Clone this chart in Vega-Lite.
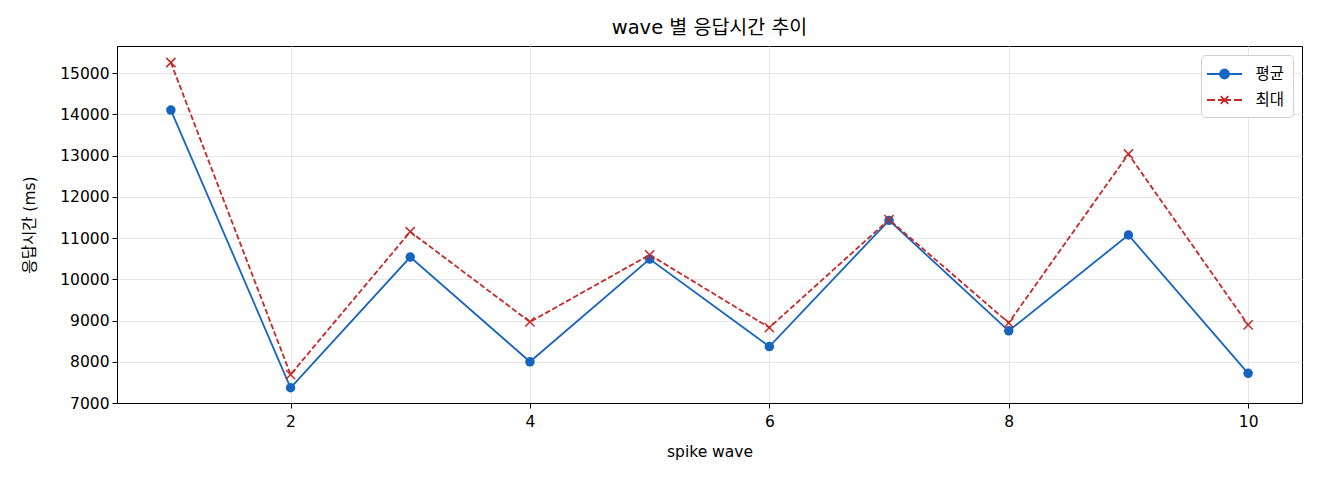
{
  "$schema": "https://vega.github.io/schema/vega-lite/v6.json",
  "width": 1185,
  "height": 357,
  "autosize": {"type": "none"},
  "padding": {"left": 117, "top": 46, "right": 18, "bottom": 77},
  "background": "white",
  "title": {
    "text": "wave 별 응답시간 추이",
    "fontSize": 19.5,
    "fontWeight": "normal",
    "font": "DejaVu Sans, Noto Sans CJK KR",
    "color": "#000",
    "offset": 8
  },
  "config": {
    "font": "DejaVu Sans, Noto Sans CJK KR",
    "view": {"stroke": "#000", "strokeWidth": 1},
    "axis": {
      "domainColor": "#000",
      "tickColor": "#000",
      "tickSize": 5,
      "labelFontSize": 15.5,
      "labelColor": "#000",
      "titleFontSize": 15.5,
      "titleFontWeight": "normal",
      "titleColor": "#000",
      "gridColor": "#e6e6e6",
      "gridWidth": 1
    }
  },
  "data": {
    "values": [
      {"wave": 1, "series": "평균", "ms": 14105},
      {"wave": 2, "series": "평균", "ms": 7370},
      {"wave": 3, "series": "평균", "ms": 10540},
      {"wave": 4, "series": "평균", "ms": 8000},
      {"wave": 5, "series": "평균", "ms": 10490},
      {"wave": 6, "series": "평균", "ms": 8370},
      {"wave": 7, "series": "평균", "ms": 11430},
      {"wave": 8, "series": "평균", "ms": 8750},
      {"wave": 9, "series": "평균", "ms": 11075},
      {"wave": 10, "series": "평균", "ms": 7720},
      {"wave": 1, "series": "최대", "ms": 15260},
      {"wave": 2, "series": "최대", "ms": 7690},
      {"wave": 3, "series": "최대", "ms": 11155},
      {"wave": 4, "series": "최대", "ms": 8967},
      {"wave": 5, "series": "최대", "ms": 10595},
      {"wave": 6, "series": "최대", "ms": 8830},
      {"wave": 7, "series": "최대", "ms": 11450},
      {"wave": 8, "series": "최대", "ms": 8945},
      {"wave": 9, "series": "최대", "ms": 13040},
      {"wave": 10, "series": "최대", "ms": 8895}
    ]
  },
  "encoding": {
    "x": {
      "field": "wave",
      "type": "quantitative",
      "title": "spike wave",
      "scale": {"domain": [0.55, 10.45], "nice": false, "zero": false},
      "axis": {"values": [2, 4, 6, 8, 10], "titlePadding": 15, "labelPadding": 6}
    },
    "y": {
      "field": "ms",
      "type": "quantitative",
      "title": "응답시간 (ms)",
      "scale": {"domain": [7000, 15660], "nice": false, "zero": false},
      "axis": {"values": [7000, 8000, 9000, 10000, 11000, 12000, 13000, 14000, 15000], "format": "d", "titlePadding": 22, "labelPadding": 3}
    },
    "color": {
      "field": "series",
      "type": "nominal",
      "scale": {"domain": ["평균", "최대"], "range": ["#1565c0", "#c62828"]},
      "legend": {
        "title": null,
        "orient": "top-right",
        "offset": 9,
        "padding": 8,
        "fillColor": "white",
        "strokeColor": "#d0d0d0",
        "cornerRadius": 4,
        "labelFontSize": 15.5,
        "labelColor": "#000",
        "symbolSize": 400,
        "symbolStrokeWidth": 1.8,
        "symbolOffset": 4.5,
        "rowPadding": 6,
        "labelOffset": 20,
        "encode": {
          "symbols": {
            "update": {
              "shape": {"signal": "datum.value == '평균' ? 'M-1.75,0H1.75M-0.45,0A0.45,0.45 0 1,0 0.45,0A0.45,0.45 0 1,0 -0.45,0Z' : 'M-1.75,0H-0.95M-0.65,0H0.65M0.95,0H1.75M-0.38,-0.38L0.38,0.38M-0.38,0.38L0.38,-0.38'"},
              "fill": {"signal": "datum.value == '평균' ? '#1565c0' : 'transparent'"}
            }
          }
        }
      }
    }
  },
  "layer": [
    {
      "transform": [{"filter": "datum.series == '평균'"}],
      "mark": {"type": "line", "strokeWidth": 1.8}
    },
    {
      "transform": [{"filter": "datum.series == '최대'"}],
      "mark": {"type": "line", "strokeWidth": 1.8, "strokeDash": [5.5, 2.5]}
    },
    {
      "transform": [{"filter": "datum.series == '평균'"}],
      "mark": {"type": "point", "shape": "circle", "filled": true, "size": 90, "opacity": 1}
    },
    {
      "transform": [{"filter": "datum.series == '최대'"}],
      "mark": {"type": "point", "shape": "M-1,-1L1,1M-1,1L1,-1", "filled": false, "size": 85, "strokeWidth": 1.5, "opacity": 1}
    }
  ]
}
